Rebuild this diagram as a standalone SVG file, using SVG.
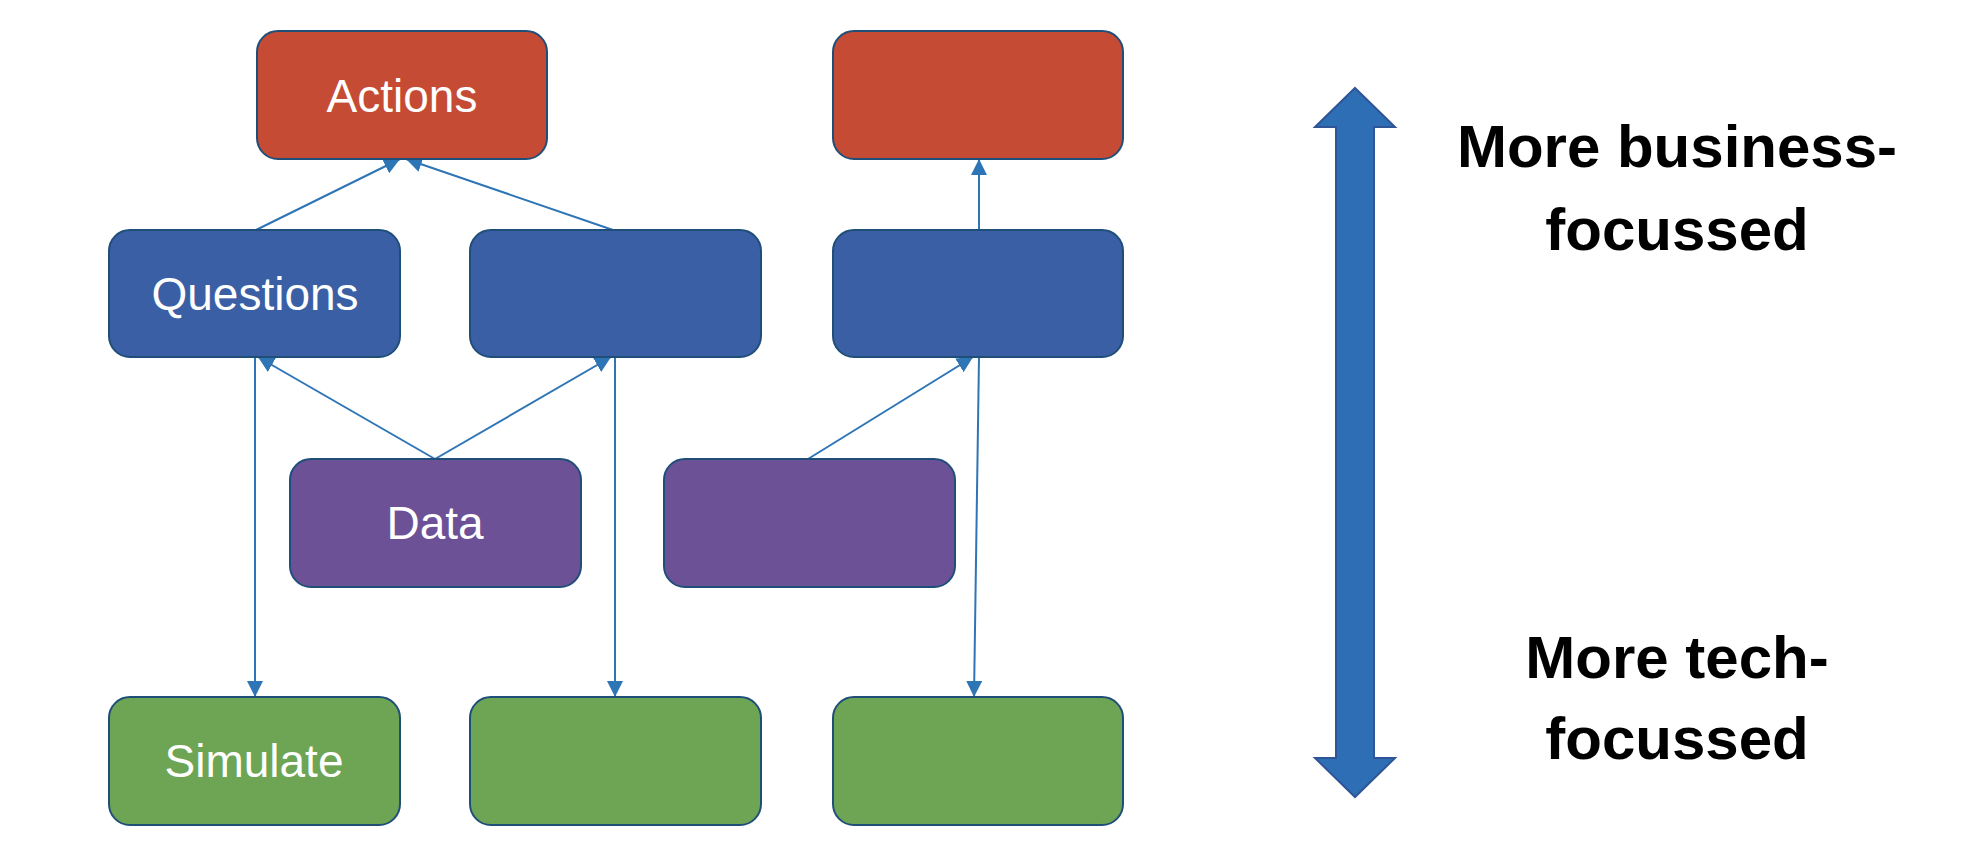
<svg xmlns="http://www.w3.org/2000/svg" width="1972" height="862" viewBox="0 0 1972 862">
<style>
.box{stroke:#1F4E79;stroke-width:2}
.red{fill:#C64B34}
.blue{fill:#3A5FA4}
.purple{fill:#6C5197}
.green{fill:#6DA554}
.lbl{font-family:"Liberation Sans",Arial,sans-serif;font-size:46px;fill:#FFFFFF;text-anchor:middle}
.side{font-family:"Liberation Sans",Arial,sans-serif;font-size:60px;font-weight:bold;fill:#000000;text-anchor:middle}
.conn{stroke:#2E75B6;stroke-width:2;fill:none;marker-end:url(#ah)}
</style>
<defs>
<marker id="ah" markerUnits="userSpaceOnUse" markerWidth="16" markerHeight="16" refX="16" refY="8" orient="auto">
<path d="M0,0 L16,8 L0,16 z" fill="#2E75B6"/>
</marker>
</defs>
<rect width="1972" height="862" fill="#FFFFFF"/>
<g id="connectors">
<line class="conn" x1="256" y1="230" x2="400" y2="159"/>
<line class="conn" x1="613" y1="230" x2="406" y2="159"/>
<line class="conn" x1="435" y1="459" x2="258" y2="357"/>
<line class="conn" x1="435" y1="459" x2="611" y2="357"/>
<line class="conn" x1="808" y1="459" x2="973" y2="357"/>
<line class="conn" x1="979" y1="230" x2="979" y2="159"/>
<line class="conn" x1="255" y1="357" x2="255" y2="697"/>
<line class="conn" x1="615" y1="357" x2="615" y2="697"/>
<line class="conn" x1="979" y1="357" x2="974" y2="697"/>
</g>
<g id="actions"><rect class="box red" x="257" y="31" width="290" height="128" rx="21"/><text class="lbl" x="402" y="112">Actions</text></g>
<g id="red2"><rect class="box red" x="833" y="31" width="290" height="128" rx="21"/></g>
<g id="questions"><rect class="box blue" x="109" y="230" width="291" height="127" rx="21"/><text class="lbl" x="255" y="310">Questions</text></g>
<g id="blue2"><rect class="box blue" x="470" y="230" width="291" height="127" rx="21"/></g>
<g id="blue3"><rect class="box blue" x="833" y="230" width="290" height="127" rx="21"/></g>
<g id="data"><rect class="box purple" x="290" y="459" width="291" height="128" rx="21"/><text class="lbl" x="435" y="539">Data</text></g>
<g id="purple2"><rect class="box purple" x="664" y="459" width="291" height="128" rx="21"/></g>
<g id="simulate"><rect class="box green" x="109" y="697" width="291" height="128" rx="21"/><text class="lbl" x="254" y="777">Simulate</text></g>
<g id="green2"><rect class="box green" x="470" y="697" width="291" height="128" rx="21"/></g>
<g id="green3"><rect class="box green" x="833" y="697" width="290" height="128" rx="21"/></g>
<g id="scale-arrow">
<path d="M1355,88 L1395,127 L1374,127 L1374,758 L1395,758 L1355,797 L1315,758 L1336,758 L1336,127 L1315,127 Z" fill="#2E6EB5" stroke="#2F5597" stroke-width="2"/>
</g>
<g id="labels">
<text class="side" x="1677" y="167">More business-</text>
<text class="side" x="1677" y="250">focussed</text>
<text class="side" x="1677" y="678">More tech-</text>
<text class="side" x="1677" y="759">focussed</text>
</g>
</svg>
